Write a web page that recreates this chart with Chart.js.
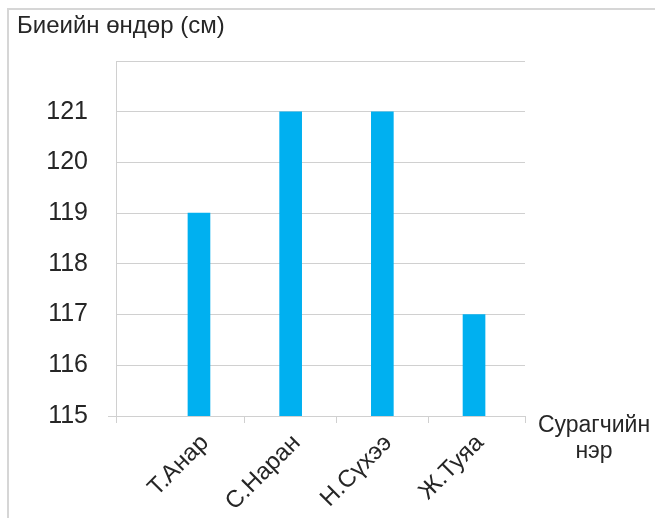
<!DOCTYPE html>
<html>
<head>
<meta charset="utf-8">
<script src="https://cdn.jsdelivr.net/npm/chart.js@4/dist/chart.umd.min.js"></script>
<style>
  body { margin: 0; background: #fff; }
  #frame {
    position: absolute; left: 7px; top: 8px; width: 700px; height: 560px;
    border: 2px solid #d6d6d6; box-sizing: border-box;
  }
  #wrap { position: absolute; left: 0; top: 0; width: 655px; height: 518px; overflow: hidden; }
  #chart { position: absolute; left: 0; top: 0; }
  #xTitle {
    position: absolute; left: 534px; top: 411px; width: 120px;
    font: 23px 'Liberation Sans', Arial, sans-serif; line-height: 26px;
    color: #262626; text-align: center;
  }
</style>
</head>
<body>
<div id="wrap">
  <div id="frame"></div>
  <canvas id="chart" width="655" height="518"></canvas>
  <div id="xTitle">Сурагчийн<br>нэр</div>
</div>
<script>
// Student heights (cm)
const names = ['Т.Анар', 'С.Наран', 'Н.Сүхээ', 'Ж.Туяа'];
const heights = [119, 121, 121, 117];

// y axis range
const yMin = 115;
const yMax = 122;

// x range in category units, bars sit at 0..3
const xMin = -0.905;
const xMax = 3.556;

const GRID = '#d0d0d0';
const TEXT = '#262626';

Chart.defaults.font.family = "'Liberation Sans', Arial, sans-serif";
Chart.defaults.color = TEXT;

new Chart(document.getElementById('chart'), {
  type: 'bar',
  data: {
    datasets: [{
      data: heights.map((h, i) => ({ x: i, y: h })),
      backgroundColor: '#00B0F0',
      barThickness: 22
    }]
  },
  options: {
    responsive: false,
    animation: false,
    layout: { padding: { left: 17, right: 130, top: 0, bottom: 0 } },
    plugins: {
      legend: { display: false },
      tooltip: { enabled: false },
      title: {
        display: true,
        text: 'Биеийн өндөр (см)',
        align: 'start',
        color: TEXT,
        font: { size: 24, weight: 'normal' },
        padding: { top: 11.5, bottom: 20.7 }
      }
    },
    scales: {
      x: {
        type: 'linear',
        min: xMin,
        max: xMax,
        offset: false,
        afterBuildTicks: s => {
          s.ticks = [xMin, 0, 0.5, 1, 1.5, 2, 2.5, 3, xMax].map(v => ({ value: v }));
        },
        afterFit: s => { s.height = 102; },
        ticks: {
          autoSkip: false,
          minRotation: 45,
          maxRotation: 45,
          padding: 6,
          labelOffset: 6,
          font: { size: 24 },
          color: TEXT,
          callback: v => Number.isInteger(v) ? names[v] : ''
        },
        grid: {
          offset: false,
          drawOnChartArea: false,
          drawTicks: true,
          tickLength: 7,
          tickColor: ctx => (ctx.tick && Number.isInteger(ctx.tick.value)) ? 'transparent' : GRID
        },
        border: { display: true, color: GRID }
      },
      y: {
        min: yMin,
        max: yMax,
        afterFit: s => { s.width = 99; },
        ticks: {
          stepSize: 1,
          padding: 20,
          font: { size: 25 },
          color: TEXT,
          callback: v => v === yMax ? '' : v
        },
        grid: {
          color: GRID,
          drawTicks: true,
          tickLength: 8,
          tickColor: ctx => (ctx.tick && ctx.tick.value === yMin) ? GRID : 'transparent'
        },
        border: { display: true, color: GRID }
      }
    }
  }
});
</script>
</body>
</html>
